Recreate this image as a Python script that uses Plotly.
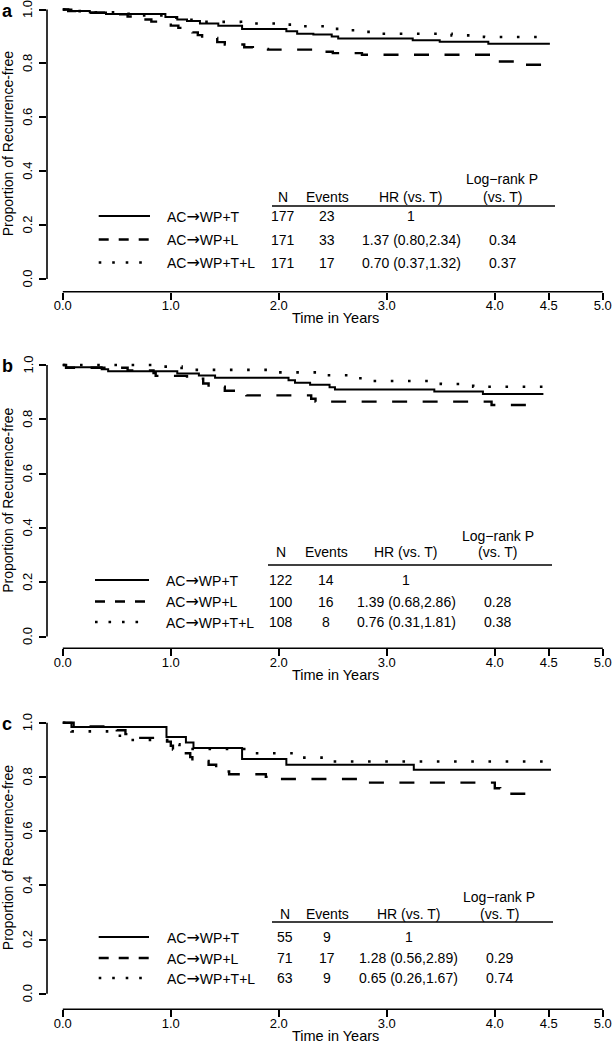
import plotly.graph_objects as go

W, H = 614, 1050
FONT = "Liberation Sans, Arial, Helvetica, sans-serif"

# ------------------------------------------------------------------ data
ARROW = "<span style='font-family:DejaVu Sans;font-size:16px'>→</span>"
groups = ["AC" + ARROW + "WP+T", "AC" + ARROW + "WP+L", "AC" + ARROW + "WP+T+L"]
panel_letters = ["a", "b", "c"]

x_tickvals = [0, 1, 2, 3, 4, 4.5, 5]
x_ticktext = ["0.0", "1.0", "2.0", "3.0", "4.0", "4.5", "5.0"]
y_tickvals = [0, 0.2, 0.4, 0.6, 0.8, 1.0]
y_ticktext = ["0.0", "0.2", "0.4", "0.6", "0.8", "1.0"]

# panel a
a_T_time = [0, 0.08, 0.25, 0.4, 0.95, 1.06, 1.15, 1.27, 1.44, 1.66, 2.07, 2.17, 2.32, 2.49, 2.55, 3.24, 3.49, 3.94, 4.51]
a_T_surv = [1.0, 0.994, 0.989, 0.983, 0.972, 0.963, 0.957, 0.948, 0.94, 0.928, 0.919, 0.91, 0.907, 0.9, 0.892, 0.886, 0.88, 0.873, 0.873]
a_L_time = [0, 0.05, 0.2, 0.4, 0.6, 0.75, 0.82, 1.0, 1.07, 1.2, 1.25, 1.29, 1.43, 1.5, 1.68, 1.76, 1.9, 2.32, 2.5, 2.77, 3.97, 4.02, 4.3, 4.5]
a_L_surv = [1.0, 0.994, 0.988, 0.982, 0.974, 0.963, 0.955, 0.94, 0.932, 0.915, 0.905, 0.894, 0.879, 0.87, 0.86, 0.854, 0.851, 0.843, 0.838, 0.832, 0.82, 0.807, 0.795, 0.795]
a_TL_time = [0, 0.1, 0.3, 0.5, 0.7, 1.0, 1.15, 1.3, 1.65, 2.0, 2.15, 2.45, 2.6, 2.75, 2.9, 3.6, 3.9, 4.5]
a_TL_surv = [1.0, 0.994, 0.99, 0.984, 0.978, 0.97, 0.962, 0.954, 0.948, 0.944, 0.938, 0.928, 0.923, 0.917, 0.91, 0.904, 0.898, 0.898]

# panel b
b_T_time = [0, 0.03, 0.36, 0.42, 1.06, 1.26, 1.41, 2.09, 2.15, 2.29, 2.47, 2.52, 3.44, 3.89, 4.45]
b_T_surv = [1.0, 0.992, 0.984, 0.977, 0.969, 0.961, 0.953, 0.944, 0.935, 0.927, 0.918, 0.91, 0.902, 0.893, 0.893]
b_L_time = [0, 0.03, 0.6, 0.84, 0.86, 1.15, 1.3, 1.35, 1.5, 1.62, 1.7, 2.3, 2.34, 3.97, 4.3, 4.36]
b_L_surv = [1.0, 0.99, 0.98, 0.97, 0.96, 0.95, 0.932, 0.92, 0.905, 0.896, 0.888, 0.876, 0.865, 0.853, 0.832, 0.832]
b_TL_time = [0, 0.9, 1.1, 1.9, 2.4, 2.7, 2.85, 3.5, 3.8, 4.45]
b_TL_surv = [1.0, 0.994, 0.982, 0.973, 0.962, 0.951, 0.941, 0.93, 0.92, 0.92]

# panel c
c_T_time = [0, 0.08, 0.96, 1.14, 1.21, 1.66, 2.07, 3.25, 4.52]
c_T_surv = [1.0, 0.984, 0.947, 0.927, 0.907, 0.866, 0.845, 0.826, 0.826]
c_L_time = [0, 0.1, 0.5, 0.58, 0.7, 0.95, 1.0, 1.02, 1.12, 1.18, 1.2, 1.35, 1.42, 1.52, 1.54, 1.88, 1.92, 2.78, 4.0, 4.05, 4.4]
c_L_surv = [1.0, 0.986, 0.972, 0.958, 0.944, 0.93, 0.915, 0.901, 0.887, 0.873, 0.859, 0.845, 0.831, 0.82, 0.81, 0.8, 0.792, 0.779, 0.758, 0.738, 0.738]
c_TL_time = [0, 0.06, 0.08, 0.5, 0.62, 1.0, 1.08, 1.7, 2.15, 2.5, 4.45]
c_TL_surv = [1.0, 0.984, 0.968, 0.952, 0.936, 0.92, 0.903, 0.887, 0.871, 0.857, 0.857]

# table values
a_N = ["177", "171", "171"]
a_events = ["23", "33", "17"]
a_hr = ["1", "1.37 (0.80,2.34)", "0.70 (0.37,1.32)"]
a_p = ["", "0.34", "0.37"]
b_N = ["122", "100", "108"]
b_events = ["14", "16", "8"]
b_hr = ["1", "1.39 (0.68,2.86)", "0.76 (0.31,1.81)"]
b_p = ["", "0.28", "0.38"]
c_N = ["55", "71", "63"]
c_events = ["9", "17", "9"]
c_hr = ["1", "1.28 (0.56,2.89)", "0.65 (0.26,1.67)"]
c_p = ["", "0.29", "0.74"]

# ------------------------------------------------------------------ layout geometry (pixels)
panels = [
    dict(curves=[(a_T_time, a_T_surv), (a_L_time, a_L_surv), (a_TL_time, a_TL_surv)],
         N=a_N, ev=a_events, hr=a_hr, p=a_p,
         top=2, bottom=291.7, y1=9.5, y0=279.0,
         hdr1=179.3, hdr2=196.7, rule=206.0, rule_x=(272, 555), rows=(216.0, 239.5, 262.5),
         cols=(282.7, 327.0, 411.0, 502.0), samp=(98.7, 150.0), name_x=165.0),
    dict(curves=[(b_T_time, b_T_surv), (b_L_time, b_L_surv), (b_TL_time, b_TL_surv)],
         N=b_N, ev=b_events, hr=b_hr, p=b_p,
         top=357, bottom=648.3, y1=365.0, y0=636.6,
         hdr1=535.5, hdr2=552.0, rule=565.0, rule_x=(268, 552), rows=(580.0, 601.5, 622.0),
         cols=(281.0, 326.0, 406.0, 497.5), samp=(95.0, 149.0), name_x=163.7),
    dict(curves=[(c_T_time, c_T_surv), (c_L_time, c_L_surv), (c_TL_time, c_TL_surv)],
         N=c_N, ev=c_events, hr=c_hr, p=c_p,
         top=715, bottom=1009.3, y1=722.7, y0=993.7,
         hdr1=897.0, hdr2=913.5, rule=922.0, rule_x=(272, 553), rows=(937.0, 958.0, 978.0),
         cols=(285.0, 327.0, 408.5, 499.0), samp=(98.7, 149.0), name_x=165.2),
]

LEFT, RIGHT = 47.0, 612.0
T0PX, PXYR = 62.8, 108.0
YLAB_X = 27.5

line_styles = [
    dict(color="black", width=2.0, dash="solid"),
    dict(color="black", width=2.4, dash="15px,15.5px"),
    dict(color="black", width=2.6, dash="2.6px,14.6px"),
]
legend_styles = [
    dict(color="black", width=2.0, dash="solid"),
    dict(color="black", width=2.4, dash="10px,10px"),
    dict(color="black", width=2.6, dash="2.6px,10.9px"),
]


def fx(px):
    return px / W


def fy(py):
    return 1 - py / H


fig = go.Figure()
shapes = []
annotations = []

xr = [(LEFT - T0PX) / PXYR, (RIGHT - T0PX) / PXYR]

for i, p in enumerate(panels):
    k = "" if i == 0 else str(i + 1)
    xa, ya = "x" + k, "y" + k
    span = p["y0"] - p["y1"]
    yr = [(p["y0"] - p["bottom"]) / span, (p["y0"] - p["top"]) / span]

    for j, (tt, ss) in enumerate(p["curves"]):
        fig.add_trace(go.Scatter(x=tt, y=ss, mode="lines", line=dict(shape="hv", **line_styles[j]),
                                 xaxis=xa, yaxis=ya, showlegend=False, hoverinfo="skip"))

    fig.layout["xaxis" + k] = dict(
        domain=[fx(LEFT), fx(RIGHT)], range=xr, anchor=ya,
        tickmode="array", tickvals=x_tickvals, ticktext=x_ticktext,
        ticks="outside", ticklen=7, tickwidth=1.5, tickcolor="black", ticklabelstandoff=-5,
        showgrid=False, zeroline=False, showline=False,
        tickfont=dict(family=FONT, size=13, color="black"), fixedrange=True)
    fig.layout["yaxis" + k] = dict(
        domain=[fy(p["bottom"]), fy(p["top"])], range=yr, anchor=xa,
        tickmode="array", tickvals=y_tickvals, showticklabels=False,
        ticks="outside", ticklen=7, tickwidth=1.5, tickcolor="black",
        showgrid=False, zeroline=False, showline=False, fixedrange=True)

    # rotated y tick labels (R style), placed on the y axis scale
    for v, s in zip(y_tickvals, y_ticktext):
        annotations.append(dict(text=s, textangle=-90, xref="paper", yref=ya, x=fx(YLAB_X), y=v,
                                xanchor="center", yanchor="middle", showarrow=False,
                                font=dict(family=FONT, size=13, color="black")))

    # axis lines (R style: only between extreme ticks)
    shapes.append(dict(type="line", xref=xa + " domain", yref=ya, x0=0, x1=0, y0=0, y1=1,
                       line=dict(color="black", width=1.6)))
    shapes.append(dict(type="line", xref=xa, yref=ya + " domain", x0=0, x1=5, y0=0, y1=0,
                       line=dict(color="black", width=1.6)))

    # axis titles and panel letter
    annotations.append(dict(text="Proportion of Recurrence-free", textangle=-90, xref="paper", yref="paper",
                            x=fx(8), y=fy((p["y0"] + p["y1"]) / 2), xanchor="center", yanchor="middle",
                            showarrow=False, font=dict(family=FONT, size=14, color="black")))
    annotations.append(dict(text="Time in Years", xref="paper", yref="paper",
                            x=fx(335), y=fy(p["bottom"] + 26.5), xanchor="center", yanchor="middle",
                            showarrow=False, font=dict(family=FONT, size=14.5, color="black")))
    annotations.append(dict(text="<b>" + panel_letters[i] + "</b>", xref="paper", yref="paper",
                            x=fx(7), y=fy(p["y1"] + 1), xanchor="center", yanchor="middle",
                            showarrow=False, font=dict(family=FONT, size=18, color="black")))

    # table
    def txt(s, x, y):
        annotations.append(dict(text=s, xref="paper", yref="paper", x=fx(x), y=fy(y),
                                xanchor="center", yanchor="middle", showarrow=False,
                                font=dict(family=FONT, size=14, color="black")))

    cN, cE, cH, cP = p["cols"]
    txt("Log−rank P", cP, p["hdr1"])
    txt("N", cN, p["hdr2"])
    txt("Events", cE, p["hdr2"])
    txt("HR (vs. T)", cH, p["hdr2"])
    txt("(vs. T)", cP, p["hdr2"])
    shapes.append(dict(type="line", xref="paper", yref="paper", x0=fx(p["rule_x"][0]), x1=fx(p["rule_x"][1]),
                       y0=fy(p["rule"]), y1=fy(p["rule"]), line=dict(color="black", width=1.5)))
    for r in range(3):
        y = p["rows"][r]
        shapes.append(dict(type="line", xref="paper", yref="paper", x0=fx(p["samp"][0]), x1=fx(p["samp"][1]),
                           y0=fy(y), y1=fy(y), line=legend_styles[r]))
        annotations.append(dict(text=groups[r], xref="paper", yref="paper", x=fx(p["name_x"]), y=fy(y),
                                xanchor="left", yanchor="middle", showarrow=False,
                                font=dict(family=FONT, size=14, color="black")))
        txt(p["N"][r], cN, y)
        txt(p["ev"][r], cE, y)
        txt(p["hr"][r], cH, y)
        if p["p"][r]:
            txt(p["p"][r], cP, y)

fig.update_layout(width=W, height=H, margin=dict(l=0, r=0, t=0, b=0),
                  paper_bgcolor="white", plot_bgcolor="white",
                  shapes=shapes, annotations=annotations, showlegend=False)

fig.write_html("out.html", config={"displayModeBar": False},
               post_script="document.body.style.margin='0px';document.body.style.padding='0px';")
